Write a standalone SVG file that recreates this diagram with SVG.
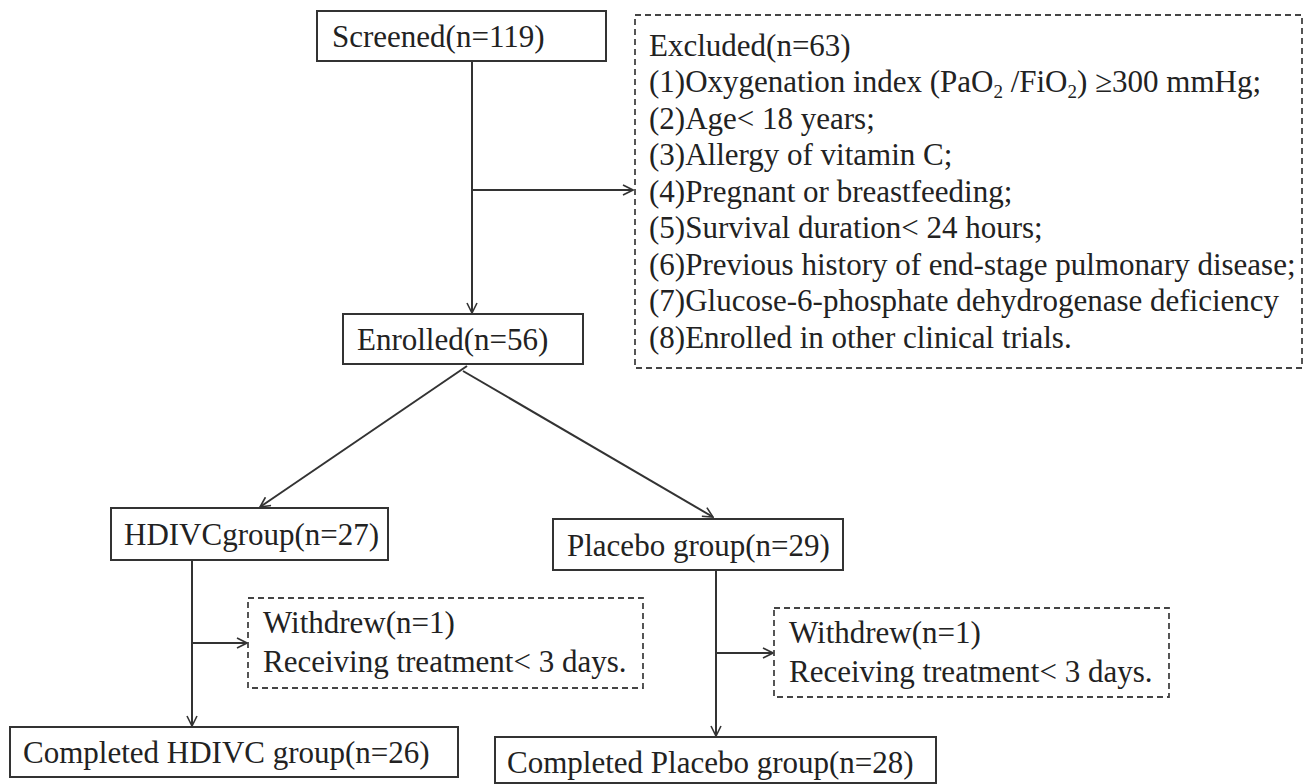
<svg xmlns="http://www.w3.org/2000/svg" width="1308" height="784" viewBox="0 0 1308 784">
<defs>
<style>
.box{fill:#fff;stroke:#333;stroke-width:2}
.dbox{fill:#fff;stroke:#444;stroke-width:1.8;stroke-dasharray:6 4}
.t{font-family:"Liberation Serif","Times New Roman",serif;font-size:31px;fill:#222}
.sub{font-size:19px}
.c{fill:none;stroke:#333;stroke-width:2}
</style>
<marker id="ah" viewBox="0 0 12 12" refX="11" refY="6" markerWidth="12" markerHeight="12" markerUnits="userSpaceOnUse" orient="auto">
<path d="M1,1 L11,6 L1,11" fill="none" stroke="#333" stroke-width="1.6"/>
</marker>
</defs>
<rect width="1308" height="784" fill="#fff"/>
<g id="connectors">
<path class="c" d="M472,61 V313" marker-end="url(#ah)"/>
<path class="c" d="M472,190 H633" marker-end="url(#ah)"/>
<path class="c" d="M467,366 L260,507" marker-end="url(#ah)"/>
<path class="c" d="M463,371 L713,517" marker-end="url(#ah)"/>
<path class="c" d="M192,560 V726" marker-end="url(#ah)"/>
<path class="c" d="M192,643 H247" marker-end="url(#ah)"/>
<path class="c" d="M716,570 V736" marker-end="url(#ah)"/>
<path class="c" d="M716,653 H773" marker-end="url(#ah)"/>
</g>
<g id="screened">
<rect class="box" x="317" y="11" width="289" height="50"/>
<text class="t" x="332" y="47">Screened(n=119)</text>
</g>
<g id="excluded">
<rect class="dbox" x="635" y="15" width="667" height="353"/>
<text class="t" x="649" y="55.5">Excluded(n=63)</text>
<text class="t" x="649" y="92">(1)Oxygenation index (PaO<tspan class="sub" dy="6">2</tspan><tspan dy="-6"> /FiO</tspan><tspan class="sub" dy="6">2</tspan><tspan dy="-6">) ≥300 mmHg;</tspan></text>
<text class="t" x="649" y="128.5">(2)Age&lt; 18 years;</text>
<text class="t" x="649" y="165">(3)Allergy of vitamin C;</text>
<text class="t" x="649" y="201.5">(4)Pregnant or breastfeeding;</text>
<text class="t" x="649" y="238">(5)Survival duration&lt; 24 hours;</text>
<text class="t" x="649" y="274.5">(6)Previous history of end-stage pulmonary disease;</text>
<text class="t" x="649" y="311">(7)Glucose-6-phosphate dehydrogenase deficiency</text>
<text class="t" x="649" y="347.5">(8)Enrolled in other clinical trials.</text>
</g>
<g id="enrolled">
<rect class="box" x="343" y="314" width="240" height="50"/>
<text class="t" x="357" y="350">Enrolled(n=56)</text>
</g>
<g id="hdivc">
<rect class="box" x="111" y="508" width="277" height="52"/>
<text class="t" x="124" y="545">HDIVCgroup(n=27)</text>
</g>
<g id="placebo">
<rect class="box" x="553" y="519" width="290" height="51"/>
<text class="t" x="567" y="556">Placebo group(n=29)</text>
</g>
<g id="withdrew-hdivc">
<rect class="dbox" x="248" y="598" width="395" height="90"/>
<text class="t" x="263" y="633">Withdrew(n=1)</text>
<text class="t" x="263" y="672">Receiving treatment&lt; 3 days.</text>
</g>
<g id="withdrew-placebo">
<rect class="dbox" x="774" y="608" width="395" height="89"/>
<text class="t" x="789" y="643">Withdrew(n=1)</text>
<text class="t" x="789" y="682">Receiving treatment&lt; 3 days.</text>
</g>
<g id="completed-hdivc">
<rect class="box" x="10" y="727" width="448" height="50"/>
<text class="t" x="23" y="763">Completed HDIVC group(n=26)</text>
</g>
<g id="completed-placebo">
<rect class="box" x="495" y="737" width="441" height="46"/>
<text class="t" x="507" y="773">Completed Placebo group(n=28)</text>
</g>
</svg>
